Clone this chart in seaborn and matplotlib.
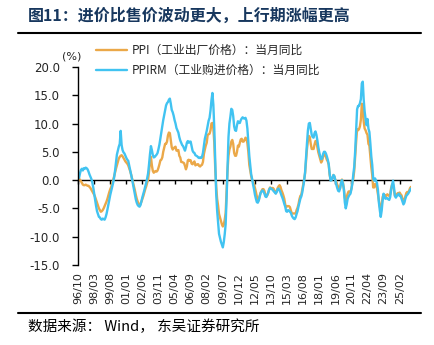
import matplotlib
matplotlib.use("Agg")
import matplotlib.pyplot as plt
import seaborn as sns
import pandas as pd

# 月度同比（%），1996/10 起
ppi = [
    0.5, 0.3, 0.0,
    -0.2, -0.5, -0.8, -0.9, -0.9, -0.8, -0.9, -1.0, -1.0, -1.2, -1.4, -1.7,
    -2.0, -2.3, -2.6, -3.0, -3.5, -4.0, -4.5, -5.0, -5.3, -5.6, -5.5, -5.3,
    -5.0, -4.6, -4.2, -3.8, -3.3, -2.7, -2.1, -1.6, -1.2, -0.6, 0.0, 0.6,
    1.3, 2.0, 2.6, 3.2, 3.8, 4.1, 4.3, 4.4, 4.2, 3.9, 3.6, 3.3,
    3.1, 2.9, 2.6, 2.1, 1.6, 1.0, 0.3, -0.4, -1.1, -1.8, -2.6, -3.3,
    -3.8, -4.2, -4.4, -4.2, -3.8, -3.3, -2.8, -2.2, -1.6, -1.1, -0.5, 0.1,
    1.5, 3.2, 4.1, 2.6, 1.6, 1.3, 1.5, 1.6, 1.5, 1.7, 2.2, 2.8,
    3.5, 3.6, 4.0, 5.0, 5.7, 6.4, 6.4, 6.8, 7.9, 8.4, 8.3, 7.1,
    5.8, 5.4, 5.6, 5.8, 5.9, 5.2, 5.2, 5.3, 4.3, 4.0, 3.2, 3.2,
    3.1, 3.0, 2.5, 1.9, 2.4, 3.5, 3.6, 3.4, 3.5, 2.9, 2.8, 3.1,
    3.3, 2.6, 2.7, 2.8, 2.8, 2.5, 2.4, 2.6, 2.7, 3.2, 4.6, 5.4,
    6.1, 6.6, 8.0, 8.1, 8.2, 8.8, 10.0, 10.1, 9.1, 6.6, 2.0, -1.1,
    -3.3, -4.5, -6.0, -6.6, -7.2, -7.8, -8.2, -7.9, -7.0, -5.8, -2.1, 1.7,
    4.3, 5.4, 5.9, 6.8, 7.1, 6.4, 4.8, 4.3, 4.3, 5.0, 6.1, 5.9,
    6.6, 7.2, 7.3, 6.8, 6.8, 7.1, 7.5, 7.3, 6.5, 5.0, 2.7, 1.7,
    0.7, 0.0, -0.3, -0.7, -1.4, -2.1, -2.9, -3.5, -3.6, -2.8, -2.2, -1.9,
    -1.6, -1.6, -1.9, -2.6, -2.9, -2.7, -2.3, -1.6, -1.3, -1.5, -1.4, -1.4,
    -1.6, -2.0, -2.3, -2.0, -1.4, -1.1, -0.9, -1.2, -1.8, -2.2, -2.7, -3.3,
    -4.3, -4.8, -4.6, -4.6, -4.6, -4.8, -5.4, -5.9, -5.9, -5.9, -5.9, -5.9,
    -5.3, -4.9, -4.3, -3.4, -2.8, -2.6, -1.7, -0.8, 0.1, 1.2, 3.3, 5.5,
    6.9, 7.8, 7.6, 6.4, 5.5, 5.5, 5.5, 6.3, 6.9, 6.9, 5.8, 4.9,
    4.3, 3.7, 3.1, 3.4, 4.1, 4.7, 4.6, 4.1, 3.6, 3.3, 2.7, 0.9,
    0.1, 0.1, 0.4, 0.9, 0.6, 0.0, -0.3, -0.8, -1.2, -1.6, -1.4, -0.5,
    0.1, -0.4, -1.5, -3.1, -3.7, -3.0, -2.4, -2.0, -2.1, -2.1, -1.5, -0.4,
    0.3, 1.7, 4.4, 6.8, 9.0, 8.8, 9.0, 9.5, 10.7, 13.5, 12.9, 10.3,
    9.1, 8.8, 8.3, 8.0, 6.4, 6.1, 4.2, 2.3, 0.9, -1.3, -1.3, -0.7,
    -0.8, -1.4, -2.5, -3.6, -4.6, -5.4, -4.4, -3.0, -2.5, -2.6, -3.0, -2.7,
    -2.5, -2.7, -2.8, -2.5, -1.4, -0.8, -0.8, -1.8, -2.8, -2.9, -2.5, -2.3,
    -2.3, -2.2, -2.5, -2.7, -3.3, -3.6, -3.6, -2.9, -2.3, -2.1, -2.2, -1.9,
    -1.4, -1.2,
]

ppirm = [
    0.6, 0.4, 1.2,
    1.8, 2.0, 1.7, 2.1, 2.0, 2.2, 2.1, 1.9, 1.5, 1.0, 0.6, 0.2,
    -0.4, -1.3, -2.4, -3.5, -4.6, -5.5, -6.0, -6.5, -6.6, -6.9, -7.0, -6.8,
    -6.9, -7.0, -6.6, -6.0, -5.2, -4.3, -3.4, -2.6, -1.9, -1.2, -0.5, 0.4,
    1.6, 3.0, 4.5, 5.2, 5.9, 6.4, 8.7, 6.2, 5.3, 4.9, 4.7, 4.3,
    3.9, 3.6, 3.4, 2.6, 1.8, 1.0, 0.2, -0.7, -1.6, -2.6, -3.4, -4.0,
    -4.4, -4.6, -4.7, -4.4, -3.7, -3.0, -2.4, -1.8, -1.1, -0.5, 0.3, 1.2,
    2.8, 4.6, 6.0, 5.3, 4.4, 4.0, 4.1, 4.3, 4.5, 4.8, 5.5, 6.3,
    7.4, 8.4, 9.5, 10.6, 11.5, 12.4, 13.2, 13.6, 13.8, 14.2, 14.4, 13.5,
    12.4, 12.0, 11.4, 10.6, 10.0, 9.2, 8.8, 8.4, 7.6, 7.0, 6.6, 6.2,
    6.0, 5.6, 5.2, 5.8, 6.6, 6.9, 6.6, 6.8, 6.8, 6.0, 5.2, 4.9,
    4.8, 4.4, 4.3, 4.2, 4.0, 3.9, 4.0, 3.9, 4.1, 4.8, 6.1, 7.3,
    8.0, 8.7, 9.6, 10.5, 11.0, 12.3, 14.1, 15.4, 13.3, 9.1, 3.3, -2.4,
    -5.4, -7.4, -9.5, -10.2, -10.9, -11.4, -11.9, -11.0, -9.6, -7.8, -3.2, 2.2,
    7.6, 10.0, 11.2, 12.6, 12.4, 11.3, 9.5, 8.8, 8.7, 9.7, 10.4, 10.1,
    10.1, 10.6, 10.9, 11.1, 10.9, 10.9, 11.0, 10.5, 9.1, 6.6, 4.3, 2.6,
    1.0, 0.2, -0.8, -1.6, -2.6, -3.3, -3.9, -4.0, -3.6, -2.9, -2.3, -2.0,
    -1.8, -2.0, -2.4, -2.9, -3.0, -2.6, -2.2, -1.7, -1.4, -1.5, -1.6, -1.8,
    -2.0, -2.2, -2.4, -2.1, -1.6, -1.5, -1.8, -2.2, -2.7, -3.1, -3.6, -4.2,
    -4.7, -5.5, -5.6, -5.3, -5.4, -5.6, -5.8, -6.3, -6.6, -6.8, -6.9, -6.6,
    -6.0, -5.5, -4.7, -4.0, -3.3, -2.9, -2.2, -1.2, -0.1, 1.4, 4.0, 6.5,
    8.8, 10.0, 10.1, 9.0, 8.0, 7.6, 7.5, 8.3, 8.6, 8.0, 7.0, 5.8,
    4.9, 4.2, 3.7, 3.8, 4.6, 5.0, 5.0, 4.7, 4.2, 3.6, 2.8, 1.1,
    -0.1, 0.0, 0.4, 0.9, 0.7, 0.0, -0.8, -1.4, -1.9, -2.0, -1.5, -0.5,
    0.0, -0.6, -1.6, -3.9, -5.0, -4.3, -3.3, -2.9, -2.6, -2.4, -1.6, -0.6,
    1.0, 2.4, 5.2, 9.0, 12.5, 13.1, 13.1, 13.6, 14.3, 17.1, 17.4, 14.2,
    12.1, 10.8, 9.7, 10.8, 9.1, 8.5, 6.5, 4.2, 2.7, 0.3, -0.1, 0.3,
    -0.1, -0.5, -1.7, -3.9, -5.3, -6.5, -5.4, -3.6, -2.4, -2.8, -3.3, -3.2,
    -3.2, -3.4, -3.5, -3.0, -1.7, -0.8, -0.1, -1.3, -2.8, -3.1, -2.8, -2.6,
    -2.4, -2.8, -2.8, -3.3, -3.8, -4.3, -4.0, -3.3, -2.8, -2.6, -2.4, -2.1,
    -1.8, -1.5,
]

tick_labels = ["96/10", "98/03", "99/08", "01/01", "02/06", "03/11", "05/04",
               "06/09", "08/02", "09/07", "10/12", "12/05", "13/10", "15/03",
               "16/08", "18/01", "19/06", "20/11", "22/04", "23/09", "25/02"]
tick_step = 17

series_names = ["PPI（工业出厂价格）：当月同比", "PPIRM（工业购进价格）：当月同比"]
series_colors = ["#EBA848", "#41C3F1"]

sns.set_theme(style="white")
plt.rcParams["font.family"] = ["DejaVu Sans", "Noto Sans CJK SC"]
plt.rcParams["axes.unicode_minus"] = False
CJK = ["Noto Sans CJK SC", "DejaVu Sans"]

df = pd.DataFrame({"idx": range(len(ppi)), "PPI": ppi, "PPIRM": ppirm})

fig = plt.figure(figsize=(4.34, 3.45), dpi=100)
ax = fig.add_axes([0.180, 0.232, 0.767, 0.574])

sns.lineplot(data=df, x="idx", y="PPI", ax=ax, color=series_colors[0],
             lw=1.7, label=series_names[0], legend=False)
sns.lineplot(data=df, x="idx", y="PPIRM", ax=ax, color=series_colors[1],
             lw=1.7, label=series_names[1], legend=False)

ymin, ymax = -15, 20
ax.set_xlim(0, len(ppi) - 1)
ax.set_ylim(ymin, ymax)
ax.set_xlabel("")
ax.set_ylabel("")

for side in ["top", "right", "bottom"]:
    ax.spines[side].set_visible(False)
ax.spines["left"].set_color("black")
ax.spines["left"].set_linewidth(1.0)

yticks = list(range(ymin, ymax + 1, 5))
ax.set_yticks(yticks)
ax.set_yticklabels([f"{v:.1f}" for v in yticks], fontsize=8.5)
ax.tick_params(axis="y", direction="out", length=4, width=1, color="black",
               pad=9, left=True)

xpos = [i * tick_step for i in range(len(tick_labels))]
ax.set_xticks(xpos)
ax.set_xticklabels(tick_labels, rotation=90, fontsize=8)
ax.tick_params(axis="x", length=0, pad=5)

# zero line with tick marks
zero_frac = (0 - ymin) / (ymax - ymin)
zax = ax.secondary_xaxis(zero_frac)
zax.set_xticks(xpos)
zax.set_xticklabels([""] * len(xpos))
zax.tick_params(axis="x", direction="out", length=3, width=1, color="black")
zax.spines["bottom"].set_color("black")
zax.spines["bottom"].set_linewidth(1.0)

ax.text(-0.02, 1.055, "(%)", transform=ax.transAxes, ha="center",
        va="center", fontsize=8)

handles, labels = ax.get_legend_handles_labels()
fig.legend(handles, labels, loc="upper left", bbox_to_anchor=(0.222, 0.872),
           frameon=False, prop={"family": CJK, "size": 8.5},
           handlelength=2.6, handletextpad=0.4, labelspacing=0.55,
           borderpad=0, borderaxespad=0)

fig.text(0.063, 0.955, "图11：进价比售价波动更大，上行期涨幅更高",
         family=CJK, fontsize=11.5, fontweight="bold", color="#17375E",
         ha="left", va="center")
fig.add_artist(plt.Line2D([0.042, 0.970], [0.904, 0.904],
                          transform=fig.transFigure, color="black", lw=1.5))
fig.add_artist(plt.Line2D([0.042, 0.970], [0.094, 0.094],
                          transform=fig.transFigure, color="black", lw=1.5))
fig.text(0.064, 0.052, "数据来源： Wind， 东吴证券研究所", family=CJK,
         fontsize=10.5, color="black", ha="left", va="center")

fig.savefig("out.png", dpi=100)
